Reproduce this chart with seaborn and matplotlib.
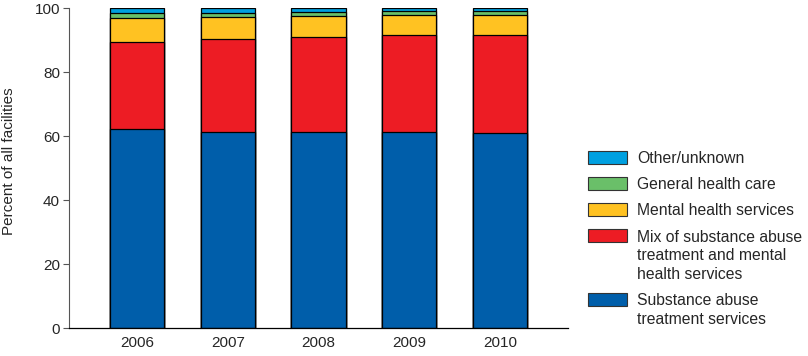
import numpy as np
import pandas as pd
import matplotlib
matplotlib.use("Agg")
import matplotlib.pyplot as plt
from matplotlib.patches import Rectangle
import seaborn as sns

# data (percent of all facilities)
years = ["2006", "2007", "2008", "2009", "2010"]
substance = [62.2, 61.2, 61.2, 61.1, 60.8]
mix = [27.1, 29.1, 29.7, 30.5, 30.9]
mental = [7.5, 6.9, 6.6, 6.2, 6.2]
general = [1.7, 1.3, 1.3, 1.3, 1.2]
other = [1.5, 1.5, 1.2, 0.9, 0.9]

labels = [
    "Substance abuse\ntreatment services",
    "Mix of substance abuse\ntreatment and mental\nhealth services",
    "Mental health services",
    "General health care",
    "Other/unknown",
]
colors = ["#005EAA", "#ED1C24", "#FFC222", "#6ABF69", "#00A0E0"]

sns.set_style("white")
plt.rcParams["font.family"] = ["Liberation Sans", "DejaVu Sans"]

df = pd.DataFrame({"year": years, "s": substance, "m": mix, "mh": mental,
                   "g": general, "o": other})
cols = ["s", "m", "mh", "g", "o"]
cum = df[cols].cumsum(axis=1)

W, H = 808, 356
fig = plt.figure(figsize=(W / 100, H / 100), dpi=100)
ax = fig.add_axes([69 / W, 28 / H, 499 / W, 320 / H])

# draw cumulative totals from the top down so each layer shows as a stack
for col, c in zip(reversed(cols), reversed(colors)):
    sns.barplot(x=df["year"], y=cum[col], color=c, width=0.6,
                edgecolor="black", linewidth=0.9, saturation=1, ax=ax)

ax.set_ylim(0, 100)
ax.set_xlim(-0.75, 4.75)
ax.set_yticks([0, 20, 40, 60, 80, 100])
ax.set_xlabel("")
ax.set_ylabel("Percent of all facilities", fontsize=11)
ax.yaxis.set_label_coords(-0.106, 0.52)
ax.tick_params(axis="y", left=True, length=4.5, width=0.8, color="#555555",
               labelsize=11, pad=2)
ax.tick_params(axis="x", bottom=False, length=0, labelsize=11, pad=6)
for side in ["top", "right"]:
    ax.spines[side].set_visible(False)
ax.spines["left"].set_color("#555555")
ax.spines["left"].set_linewidth(0.8)
ax.spines["bottom"].set_color("black")
ax.spines["bottom"].set_linewidth(0.9)

# legend: patch aligned with the first line of each (possibly wrapped) label
line_h = 18.7
gap = 7.5
y = 157.0
for c, lab in zip(colors[::-1], labels[::-1]):
    fig.patches.append(Rectangle((588 / W, 1 - (y + 6.5) / H), 39 / W, 13 / H,
                                 transform=fig.transFigure, facecolor=c,
                                 edgecolor="#333333", linewidth=0.8))
    lines = lab.split("\n")
    for i, ln in enumerate(lines):
        fig.text(637 / W, 1 - (y + i * line_h) / H, ln, fontsize=11.3,
                 ha="left", va="center_baseline")
    y += len(lines) * line_h + gap

fig.savefig("out.png", dpi=100)
